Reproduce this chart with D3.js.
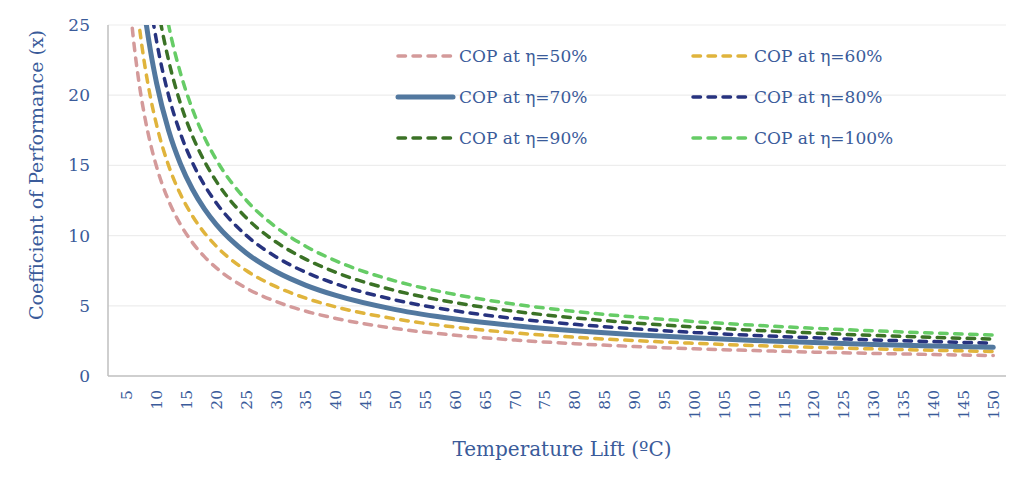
<!DOCTYPE html>
<html>
<head>
<meta charset="utf-8">
<script src="https://cdn.jsdelivr.net/npm/d3@7"></script>
<style>
  html, body { margin: 0; padding: 0; background: #fff; }
  svg { display: block; }
  text { font-family: "DejaVu Serif", "Liberation Serif", serif; fill: #3A5B9A; }
</style>
</head>
<body>
<svg id="chart" width="1024" height="488"></svg>
<script>
// ---- data ----
const deltaT = [4,5,6,7,8,9,10,12,14,16,18,20,25,30,35,40,50,60,70,80,90,100,110,120,130,140,150];
const cop50  = [36.5,29.3,24.5,21.07,18.5,16.5,14.9,12.5,10.79,9.5,8.5,7.7,6.26,5.3,4.61,4.1,3.38,2.9,2.56,2.3,2.1,1.94,1.81,1.7,1.61,1.53,1.46];
const cop60  = [43.8,35.16,29.4,25.29,22.2,19.8,17.88,15,12.94,11.4,10.2,9.24,7.51,6.36,5.54,4.92,4.06,3.48,3.07,2.76,2.52,2.33,2.17,2.04,1.93,1.83,1.75];
const cop70  = [51.1,41.02,34.3,29.5,25.9,23.1,20.86,17.5,15.1,13.3,11.9,10.78,8.76,7.42,6.46,5.74,4.73,4.06,3.58,3.22,2.94,2.72,2.53,2.38,2.25,2.14,2.04];
const cop80  = [58.4,46.88,39.2,33.71,29.6,26.4,23.84,20,17.26,15.2,13.6,12.32,10.02,8.48,7.38,6.56,5.41,4.64,4.09,3.68,3.36,3.1,2.89,2.72,2.57,2.45,2.34];
const cop90  = [65.7,52.74,44.1,37.93,33.3,29.7,26.82,22.5,19.41,17.1,15.3,13.86,11.27,9.54,8.31,7.38,6.08,5.22,4.6,4.14,3.78,3.49,3.26,3.06,2.89,2.75,2.63];
const cop100 = [73,58.6,49,42.14,37,33,29.8,25,21.57,19,17,15.4,12.52,10.6,9.23,8.2,6.76,5.8,5.11,4.6,4.2,3.88,3.62,3.4,3.22,3.06,2.92];
const seriesNames = ["COP at η=50%","COP at η=60%","COP at η=70%","COP at η=80%","COP at η=90%","COP at η=100%"];
const xTickLabels = [5,10,15,20,25,30,35,40,45,50,55,60,65,70,75,80,85,90,95,100,105,110,115,120,125,130,135,140,145,150];
const yTickLabels = [0,5,10,15,20,25];

// ---- styles ----
const styles = [
  {color:"#D49A9A", width:3.5, dash:"7.5,7.5"},
  {color:"#E0B43C", width:3.5, dash:"7.5,7.5"},
  {color:"#52789F", width:5,   dash:null},
  {color:"#27337F", width:3.5, dash:"7.5,7.5"},
  {color:"#3B7226", width:3.5, dash:"7.5,7.5"},
  {color:"#66CC66", width:3.5, dash:"7.5,7.5"}
];
const allSeries = [cop50, cop60, cop70, cop80, cop90, cop100];

const svg = d3.select("#chart");
const L = 108, R = 1006, T = 25, B = 376;

const x = d3.scaleLinear().domain([1.87, 152.13]).range([L, R]);
const y = d3.scaleLinear().domain([0, 25]).range([B, T]);

// gridlines
svg.append("g").selectAll("line").data(yTickLabels.filter(d => d > 0)).join("line")
  .attr("x1", L).attr("x2", R)
  .attr("y1", d => y(d)).attr("y2", d => y(d))
  .attr("stroke", "#EDEDED").attr("stroke-width", 1.2);

// axes lines
svg.append("line").attr("x1", L).attr("x2", L).attr("y1", T).attr("y2", B)
  .attr("stroke", "#BFBFBF").attr("stroke-width", 1.5);
svg.append("line").attr("x1", L).attr("x2", R).attr("y1", B).attr("y2", B)
  .attr("stroke", "#BFBFBF").attr("stroke-width", 1.5);

// y tick labels
svg.append("g").selectAll("text").data(yTickLabels).join("text")
  .attr("x", 90).attr("y", d => y(d)).attr("dy", "0.35em")
  .attr("text-anchor", "end").style("font-size", "17px")
  .text(d => d);

// x tick labels (rotated)
svg.append("g").selectAll("text").data(xTickLabels).join("text")
  .attr("transform", d => `translate(${x(d)},390) rotate(-90)`)
  .attr("dy", "0.35em").attr("text-anchor", "end").style("font-size", "15.5px")
  .text(d => d);

// axis titles
svg.append("text").attr("x", 562).attr("y", 456).attr("text-anchor", "middle")
  .style("font-size", "20px").text("Temperature Lift (ºC)");
svg.append("text").attr("transform", "translate(36,175) rotate(-90)")
  .attr("text-anchor", "middle").attr("dy", "0.35em")
  .style("font-size", "19px").text("Coefficient of Performance (x)");

// clip
svg.append("defs").append("clipPath").attr("id", "plotclip")
  .append("rect").attr("x", L).attr("y", T).attr("width", R - L).attr("height", B - T);

const line = d3.line()
  .x((d, i) => x(deltaT[i]))
  .y(d => y(d))
  .curve(d3.curveMonotoneX);

const plot = svg.append("g").attr("clip-path", "url(#plotclip)");
allSeries.forEach((s, k) => {
  plot.append("path").datum(s)
    .attr("fill", "none")
    .attr("stroke", styles[k].color)
    .attr("stroke-width", styles[k].width)
    .attr("stroke-linecap", "round")
    .attr("stroke-dasharray", styles[k].dash)
    .attr("d", line);
});

// legend
const legendPos = [
  {lx: 398, ly: 56}, {lx: 693, ly: 56},
  {lx: 398, ly: 97}, {lx: 693, ly: 97},
  {lx: 398, ly: 138}, {lx: 693, ly: 138}
];
seriesNames.forEach((name, k) => {
  const p = legendPos[k];
  svg.append("line")
    .attr("x1", p.lx).attr("x2", p.lx + 55).attr("y1", p.ly).attr("y2", p.ly)
    .attr("stroke", styles[k].color)
    .attr("stroke-width", styles[k].width)
    .attr("stroke-linecap", "round")
    .attr("stroke-dasharray", styles[k].dash);
  svg.append("text").attr("x", p.lx + 61).attr("y", p.ly).attr("dy", "0.35em")
    .style("font-size", "17px").text(name);
});
</script>
</body>
</html>
